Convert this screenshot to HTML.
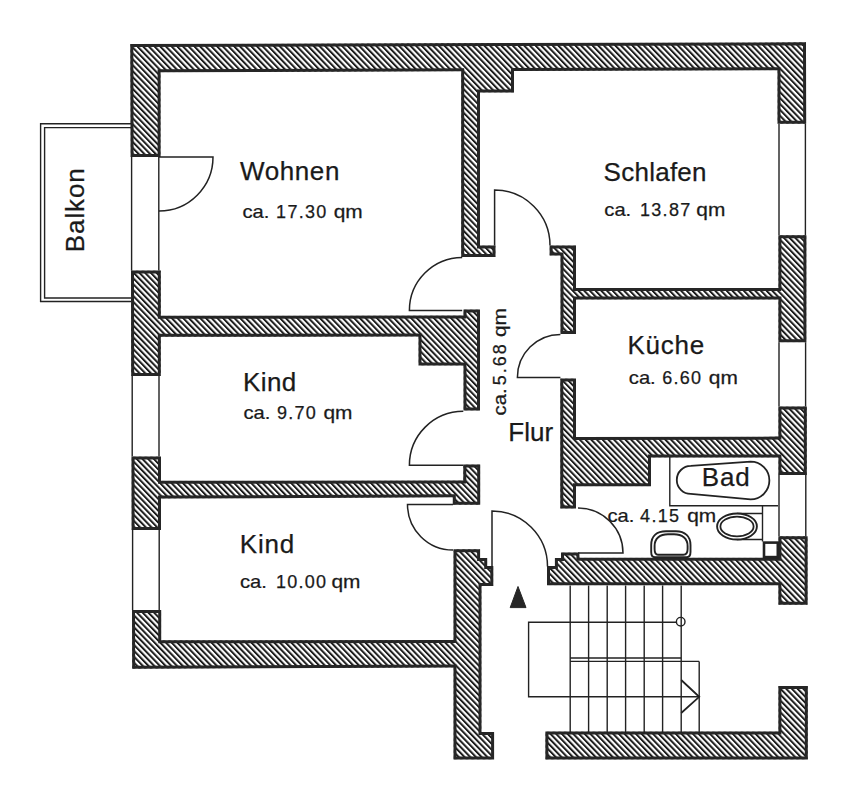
<!DOCTYPE html>
<html>
<head>
<meta charset="utf-8">
<style>
html,body{margin:0;padding:0;background:#fff;}
body{width:862px;height:796px;overflow:hidden;}
svg{display:block;}
text{font-family:"Liberation Sans", sans-serif;fill:#1a1a1a;stroke:#1a1a1a;stroke-width:0.25px;}
.lab{font-size:26px;letter-spacing:0.8px;}
.qm{font-size:18px;letter-spacing:1.6px;}
.q2{font-size:18px;}
.thin{fill:none;stroke:#222;stroke-width:1.4;}
.door{fill:none;stroke:#222;stroke-width:1.5;}
</style>
</head>
<body>
<svg width="862" height="796" viewBox="0 0 862 796">
<defs>
<pattern id="h" patternUnits="userSpaceOnUse" width="4.1" height="10" patternTransform="rotate(-44)">
<rect x="0" y="0" width="2" height="10" fill="#1c1c1c"/>
</pattern>
<clipPath id="cA"><path id="wA" d="M130.3,44 L806,42.3 L806.2,123.8 L777.5,123.8 L777.5,70.2 L514,71 L514,92.5 L480,92.5 L480,245.5 L495.5,245.5 L495.5,257 L461.2,257 L461.2,71.3 L160.6,72.2 L160.6,157 L130.6,157 Z"/></clipPath>
<clipPath id="cB"><path id="wB" d="M131,270.5 L160.8,270.5 L160.8,315.8 L463.5,315.5 L463.5,309.6 L480,309.6 L480,410.5 L463.5,410.5 L463.5,365.4 L418.5,365.4 L418.5,336.5 L160.8,336.8 L160.8,376 L131.2,376 Z"/></clipPath>
<clipPath id="cC"><path id="wC" d="M131.5,456.6 L161,456.6 L161,480.8 L463.3,480.6 L463.3,464.4 L480.2,464.4 L480.2,504.8 L452.8,504.8 L452.8,497.3 L161,498.6 L161,530 L131.6,530 Z"/></clipPath>
<clipPath id="cD"><path id="wD" d="M132,610 L161.2,610 L161.2,640.3 L453.5,640 L453.5,549.3 L480.1,549.3 L480.1,558.1 L487.2,558.1 L487.2,566 L493.3,566 L493.3,586 L481.5,586 L481.5,732 L494.1,732 L494.1,759.5 L453.5,759.5 L453.5,667.5 L132.2,668.8 Z"/></clipPath>
<clipPath id="cE"><path id="wE" d="M549.6,245.4 L576,245.4 L576,288 L778.4,288 L778.4,235.2 L806.4,235.2 L806.4,342.2 L778.4,342.2 L778.4,299.5 L576,299.5 L576,334 L560.5,334 L560.5,255.5 L549.6,255.5 Z"/></clipPath>
<clipPath id="cF"><path id="wF" d="M560.3,378.5 L576,378.5 L576,437 L778.4,436.6 L778.4,406.6 L806.8,406.6 L806.8,475 L778.4,475 L778.4,457.6 L651,457.6 L651,486.3 L576,486.3 L576,508.5 L560.3,508.5 Z"/></clipPath>
<clipPath id="cG"><path id="wG" d="M547,585.3 L547,566 L554.9,566 L554.9,558.1 L561,558.1 L561,552.5 L579.4,552.5 L579.4,557.8 L778.4,557.8 L778.4,536.2 L807.6,536.2 L807.6,604.7 L778.4,604.7 L778.4,585.3 Z"/></clipPath>
<clipPath id="cH"><path id="wH" d="M545.4,731.5 L778.4,731.5 L778.4,686.1 L807.8,686.1 L807.8,759.6 L545.4,759.6 Z"/></clipPath>
</defs>

<!-- balcony -->
<path class="thin" d="M131,123.8 L40.6,123.8 L40.6,301.5 L131,301.5"/>
<path class="thin" d="M131,127.6 L44.6,127.6 L44.6,298 L131,298"/>

<!-- window frames (left) -->
<path class="thin" d="M131.6,157 V270.5 M158.8,157 V270.5 M132.2,376 V456.6 M159,376 V456.6 M132.6,530 V610 M159.2,530 V610"/>
<!-- window frames (right) -->
<path class="thin" d="M779,123.8 V235.2 M805.4,123.8 V235.2 M779,342.2 V406.6 M805.6,342.2 V406.6 M779,475 V536.3 M805.8,475 V536.3"/>

<!-- walls -->
<g fill="url(#h)" stroke="#262626" stroke-width="6">
<use href="#wA" clip-path="url(#cA)"/>
<use href="#wB" clip-path="url(#cB)"/>
<use href="#wC" clip-path="url(#cC)"/>
<use href="#wD" clip-path="url(#cD)"/>
<use href="#wE" clip-path="url(#cE)"/>
<use href="#wF" clip-path="url(#cF)"/>
<use href="#wG" clip-path="url(#cG)"/>
<use href="#wH" clip-path="url(#cH)"/>
</g>

<!-- doors -->
<g class="door">
<path d="M159,157 H213 A54,54 0 0 1 159,211"/>
<path d="M494.6,245.4 V190 A55.5,55.5 0 0 1 550,245.4"/>
<path d="M462.2,310.4 H409.4 A53,53 0 0 1 462.2,257.4"/>
<path d="M463.3,465.3 H409.4 A54,54 0 0 1 463.3,411.3"/>
<path d="M453,504.5 H407.5 A45.5,45.5 0 0 0 453,550"/>
<path d="M560.4,377.4 H517.4 A43,43 0 0 1 560.4,334.4"/>
<path d="M578,553 H623 A45,45 0 0 0 578,508"/>
<path d="M492,566.5 V511 A55.5,55.5 0 0 1 547.5,566.5"/>
</g>

<!-- stairs -->
<g class="thin">
<path d="M570.2,585.5 V733 M588.6,585.5 V733 M607.2,585.5 V733 M625.6,585.5 V733 M644.2,585.5 V733 M662.6,585.5 V733 M681.2,585.5 V733"/>
<path d="M676.4,622.3 H528.6 V696.8 H699.2 M699.2,661.4 V733"/>
<path d="M570.2,658 H681.2 M570.2,661.4 H699.2"/>
<path d="M681.2,680 L699.2,696.8 L681.2,713" stroke-width="1.8"/>
<circle cx="680.7" cy="621.7" r="4.3"/>
</g>
<path d="M518,586.5 L510.2,607.6 L526,607.6 Z" fill="#262626" stroke="#262626" stroke-width="1" stroke-linejoin="round"/>

<!-- bathroom -->
<g class="thin">
<path d="M669.8,457 V505.7 H778"/>
<path d="M690.8,465.9 L750.6,461.7 A18.8,18.8 0 0 1 750.6,499.3 L690.8,493.9 A14,14 0 0 1 690.8,465.9 Z" stroke-width="1.8"/>
<path d="M737,513.5 H762.5 M762.5,505.7 V541.4 M737,539.5 H762.5"/>
<ellipse cx="737" cy="526.5" rx="19.9" ry="13" fill="#fff" stroke-width="1.9"/>
<ellipse cx="737" cy="526.5" rx="16.6" ry="9.8" stroke-width="1.8"/>
<path d="M655,557.3 C652.5,557.3 651.2,555.5 651.2,552 L651.2,545 C651.2,536 657,531.2 666,531.2 L676,531.2 C685,531.2 690.5,536.5 690.5,545 L690.5,552 C690.5,555.5 689,557.3 686.5,557.3 Z" stroke-width="1.9"/>
<path d="M658,554.7 C655.5,554.7 654.6,552.5 654.6,549 L654.6,546 C654.6,538.5 660,534.3 668,534.3 L674,534.3 C682,534.3 687.6,538.5 687.6,546 L687.6,549 C687.6,552.5 686,554.7 683.5,554.7 Z" stroke-width="1.9"/>
<rect x="764" y="542.6" width="13.8" height="14.5" stroke-width="2.6"/>
</g>

<!-- labels -->
<text class="lab" x="240" y="180" style="letter-spacing:0.6px">Wohnen</text>
<text class="q2" transform="translate(242.4,217.7) scale(1.12,1)">ca.</text><text class="q2" x="276.1" y="217.7" style="letter-spacing:1.3px">17.30</text><text class="q2" transform="translate(333.7,217.7) scale(1.16,1)">qm</text>
<text class="lab" x="603.6" y="180.8" style="letter-spacing:0.25px">Schlafen</text>
<text class="q2" transform="translate(604.3,215.5) scale(1.12,1)">ca.</text><text class="q2" x="640.0" y="215.5" style="letter-spacing:1.3px">13.87</text><text class="q2" transform="translate(696.3,215.5) scale(1.16,1)">qm</text>
<text class="lab" x="243" y="391.3" style="letter-spacing:0.4px">Kind</text>
<text class="q2" transform="translate(243.5,418.5) scale(1.12,1)">ca.</text><text class="q2" x="276.9" y="418.5" style="letter-spacing:1.3px">9.70</text><text class="q2" transform="translate(323.5,418.5) scale(1.16,1)">qm</text>
<text class="lab" x="239.8" y="553">Kind</text>
<text class="q2" transform="translate(240.0,588) scale(1.12,1)">ca.</text><text class="q2" x="275.9" y="588" style="letter-spacing:1.3px">10.00</text><text class="q2" transform="translate(331.4,588) scale(1.16,1)">qm</text>
<text class="lab" x="627.4" y="354.4">Küche</text>
<text class="q2" transform="translate(628.8,383.5) scale(1.12,1)">ca.</text><text class="q2" x="662.2" y="383.5" style="letter-spacing:1.3px">6.60</text><text class="q2" transform="translate(708.8,383.5) scale(1.16,1)">qm</text>
<text class="lab" x="701.8" y="486.2">Bad</text>
<text class="q2" transform="translate(607.4,521.8) scale(1.12,1)">ca.</text><text class="q2" x="640.1" y="521.8" style="letter-spacing:1.3px">4.15</text><text class="q2" transform="translate(687.2,521.8) scale(1.16,1)">qm</text>
<text class="lab" x="508.3" y="440.7" style="letter-spacing:0px">Flur</text>
<g transform="translate(506,415.4) rotate(-90)"><text class="q2" transform="scale(1.12,1)">ca.</text><text class="q2" x="30.1" y="0" style="letter-spacing:2px">5.68</text><text class="q2" transform="translate(78.4,0) scale(1.16,1)">qm</text></g>
<text class="lab" transform="translate(83.6,252.2) rotate(-90)" style="letter-spacing:0.9px">Balkon</text>
</svg>
</body>
</html>
